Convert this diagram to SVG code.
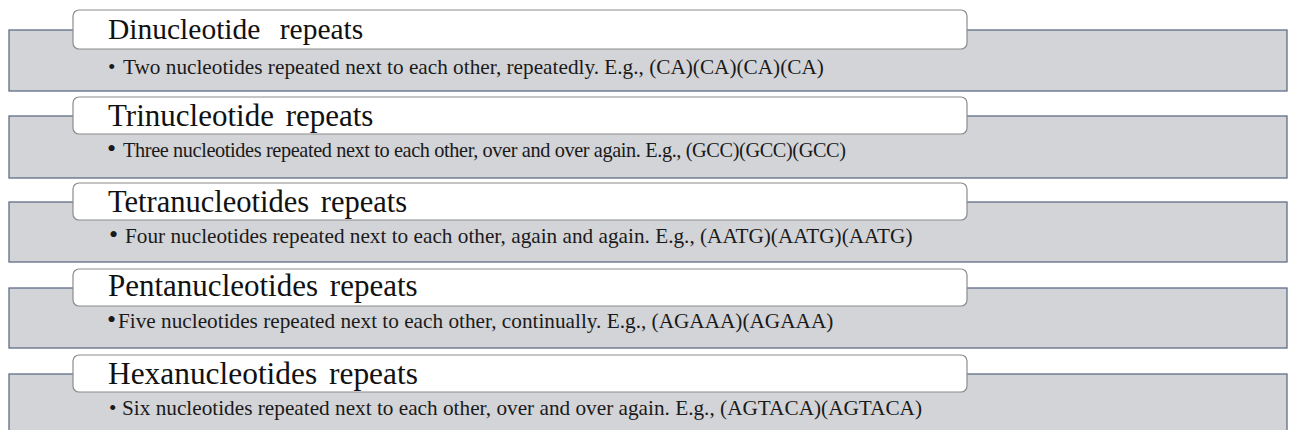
<svg xmlns="http://www.w3.org/2000/svg" width="1290" height="430" viewBox="0 0 1290 430">
  <style>
    .panel { fill: #d3d4d8; stroke: #5f6e88; stroke-width: 1.3; }
    .head { fill: #ffffff; stroke: #8c8c8c; stroke-width: 1.2; }
    .title { font-family: "Liberation Serif", "Times New Roman", serif; font-size: 31px; fill: #111111; }
    .desc { font-family: "Liberation Serif", "Times New Roman", serif; font-size: 21.25px; fill: #1a1a1a; }
    .bl { font-size: 26px; }
  </style>

  <!-- Repeat class cards: grey body panel with a rounded white header tab -->
  <g id="dinucleotide">
    <rect class="panel" x="9" y="30" width="1278" height="61"/>
    <rect class="head" x="73" y="10" width="894" height="39" rx="6"/>
    <text class="title" x="108" y="39" style="font-size:29.5px;word-spacing:12px">Dinucleotide repeats</text>
    <text class="desc" y="74"><tspan x="108">•</tspan><tspan x="123">Two nucleotides repeated next to each other, repeatedly. E.g., (CA)(CA)(CA)(CA)</tspan></text>
  </g>

  <g id="trinucleotide">
    <rect class="panel" x="9" y="116" width="1278" height="62"/>
    <rect class="head" x="73" y="97" width="894" height="37" rx="6"/>
    <text class="title" x="108" y="126" style="font-size:31px;word-spacing:4px">Trinucleotide repeats</text>
    <text class="desc" y="157"><tspan class="bl" x="107">•</tspan><tspan x="123" style="font-size:20.3px" textLength="723" lengthAdjust="spacing">Three nucleotides repeated next to each other, over and over again. E.g., (GCC)(GCC)(GCC)</tspan></text>
  </g>

  <g id="tetranucleotide">
    <rect class="panel" x="9" y="202" width="1278" height="60"/>
    <rect class="head" x="73" y="183" width="894" height="37" rx="6"/>
    <text class="title" x="108" y="212" style="font-size:30.5px;word-spacing:4px">Tetranucleotides repeats</text>
    <text class="desc" y="243"><tspan class="bl" x="109">•</tspan><tspan x="125">Four nucleotides repeated next to each other, again and again. E.g., (AATG)(AATG)(AATG)</tspan></text>
  </g>

  <g id="pentanucleotide">
    <rect class="panel" x="9" y="288" width="1278" height="60"/>
    <rect class="head" x="73" y="269" width="894" height="37" rx="6"/>
    <text class="title" x="108" y="296" style="font-size:31px;word-spacing:4px">Pentanucleotides repeats</text>
    <text class="desc" y="328"><tspan class="bl" x="107">•</tspan><tspan x="118">Five nucleotides repeated next to each other, continually. E.g., (AGAAA)(AGAAA)</tspan></text>
  </g>

  <g id="hexanucleotide">
    <rect class="panel" x="9" y="374" width="1278" height="62"/>
    <rect class="head" x="73" y="355" width="894" height="37" rx="6"/>
    <text class="title" x="108" y="384" style="font-size:31.4px;word-spacing:4px">Hexanucleotides repeats</text>
    <text class="desc" y="415"><tspan x="109">•</tspan><tspan x="122">Six nucleotides repeated next to each other, over and over again. E.g., (AGTACA)(AGTACA)</tspan></text>
  </g>

  <g id="connectors"></g>
</svg>
